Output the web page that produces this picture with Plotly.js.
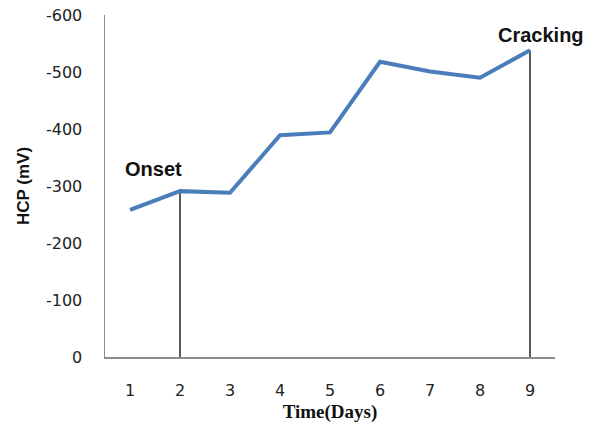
<!DOCTYPE html>
<html>
<head>
<meta charset="utf-8">
<script src="https://cdn.plot.ly/plotly-3.0.1.min.js"></script>
<style>html,body{margin:0;padding:0;background:#fff;}#chart{width:597px;height:428px;}</style>
</head>
<body>
<div id="chart"></div>
<script>
const days = [1, 2, 3, 4, 5, 6, 7, 8, 9];
const hcp = [-258, -291, -288, -389, -394, -518, -501, -490, -538];
const yTickVals = [0, -100, -200, -300, -400, -500, -600];
const yTickText = ["0", "-100", "-200", "-300", "-400", "-500", "-600"];
const markerDays = [2, 9];
const markerLabels = ["Onset", "Cracking"];

const markerVals = markerDays.map(d => hcp[days.indexOf(d)]);

const trace = {
  x: days, y: hcp, type: 'scatter', mode: 'lines',
  line: {color: '#4A7EBB', width: 4},
  hoverinfo: 'skip', showlegend: false
};

const shapes = markerDays.map((d, i) => ({
  type: 'line', xref: 'x', yref: 'y',
  x0: d, x1: d, y0: 0, y1: markerVals[i],
  line: {color: '#000', width: 1.3},
  layer: 'below'
}));

const annotations = [
  {x: 1.46, y: -330, text: markerLabels[0]},
  {x: 9.22, y: -565, text: markerLabels[1]}
].map(a => Object.assign(a, {
  xref: 'x', yref: 'y', showarrow: false,
  font: {family: 'Liberation Sans, Arial, sans-serif', size: 20, color: '#111'},
  xanchor: 'center', yanchor: 'middle'
}));
annotations[0].text = '<b>' + annotations[0].text + '</b>';
annotations[1].text = '<b>' + annotations[1].text + '</b>';

const layout = {
  width: 597, height: 428,
  margin: {l: 105, r: 42, t: 15, b: 71},
  paper_bgcolor: '#fff', plot_bgcolor: '#fff',
  showlegend: false,
  xaxis: {
    range: [0.5, 9.5],
    tickvals: days, ticktext: days.map(String),
    showgrid: false, zeroline: false,
    showline: true, linecolor: '#8c8c8c', linewidth: 1.5,
    ticks: '', ticklabelstandoff: 18,
    tickfont: {family: 'DejaVu Sans, sans-serif', size: 16, color: '#222'},
    title: {text: '<b>Time(Days)</b>', standoff: 6,
      font: {family: 'Liberation Serif, Times New Roman, serif', size: 19, color: '#111'}}
  },
  yaxis: {
    range: [0, -600],
    tickvals: yTickVals, ticktext: yTickText,
    showgrid: false, zeroline: false,
    showline: true, linecolor: '#8c8c8c', linewidth: 1.5,
    ticks: '', ticklabelstandoff: 18,
    tickfont: {family: 'DejaVu Sans, sans-serif', size: 16, color: '#222'},
    title: {text: '<b>HCP (mV)</b>', standoff: 12,
      font: {family: 'Liberation Sans, Arial, sans-serif', size: 17, color: '#111'}}
  },
  shapes: shapes,
  annotations: annotations
};

Plotly.newPlot('chart', [trace], layout, {staticPlot: true, displayModeBar: false});
</script>
</body>
</html>
